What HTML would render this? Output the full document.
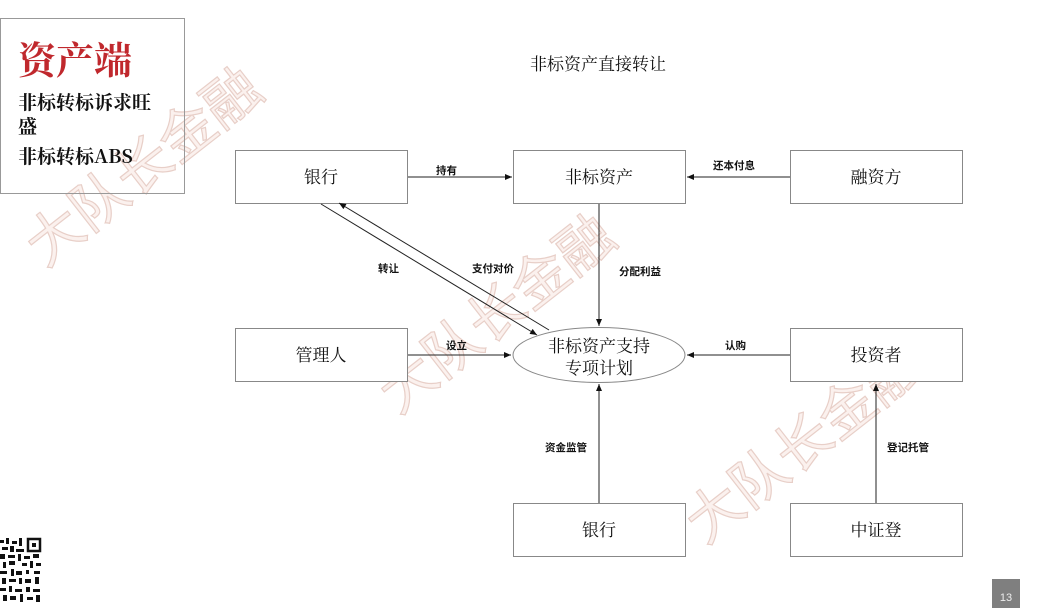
<!DOCTYPE html>
<html><head><meta charset="utf-8"><style>
html,body{margin:0;padding:0;background:#fff;}
body{width:1050px;height:608px;position:relative;overflow:hidden;font-family:"Liberation Serif","Noto Serif CJK SC",serif;}
</style></head><body>
<svg width="1050" height="608" viewBox="0 0 1050 608" style="position:absolute;left:0;top:0">
<defs>
<marker id="a" markerWidth="8" markerHeight="8" refX="7" refY="3" orient="auto" markerUnits="userSpaceOnUse"><path d="M0,0 L7,3 L0,6 z" fill="#111"/></marker>
</defs>
<g font-family="Noto Sans CJK SC, sans-serif" font-size="56" fill="#fbf1ee" stroke="#e8cfc8" stroke-width="1.2">
<text transform="translate(45,268) rotate(-38)">大队长金融</text>
<text transform="translate(398,415) rotate(-38)">大队长金融</text>
<text transform="translate(705,545) rotate(-38)">大队长金融</text>
</g>
<rect x="0.5" y="18.5" width="184" height="175" fill="none" stroke="#999"/>
<text x="18" y="74" font-size="38" fill="#c0282d" font-family="Noto Serif CJK SC, serif" font-weight="bold">资产端</text>
<text x="18" y="109" font-size="19" fill="#111" font-weight="bold" font-family="Noto Serif CJK SC, serif">非标转标诉求旺</text>
<text x="18" y="133" font-size="19" fill="#111" font-weight="bold" font-family="Noto Serif CJK SC, serif">盛</text>
<text x="18" y="163" font-size="19" fill="#111" font-weight="bold" font-family="Noto Serif CJK SC, serif">非标转标ABS</text>
<text x="598" y="70" font-size="17" text-anchor="middle" fill="#111" font-family="Noto Serif CJK SC, serif">非标资产直接转让</text>
<g fill="#fff" stroke="#888" stroke-width="1">
<rect x="235.5" y="150.5" width="172" height="53"/>
<rect x="513.5" y="150.5" width="172" height="53"/>
<rect x="790.5" y="150.5" width="172" height="53"/>
<rect x="235.5" y="328.5" width="172" height="53"/>
<rect x="790.5" y="328.5" width="172" height="53"/>
<rect x="513.5" y="503.5" width="172" height="53"/>
<rect x="790.5" y="503.5" width="172" height="53"/>
<ellipse cx="599" cy="355" rx="86" ry="27.5"/>
</g>
<g font-size="17" text-anchor="middle" fill="#111" font-family="Noto Serif CJK SC, serif">
<text x="321" y="183">银行</text>
<text x="599" y="183">非标资产</text>
<text x="876" y="183">融资方</text>
<text x="321" y="361">管理人</text>
<text x="876" y="361">投资者</text>
<text x="599" y="536">银行</text>
<text x="876" y="536">中证登</text>
<text x="599" y="352">非标资产支持</text>
<text x="599" y="374">专项计划</text>
</g>
<g stroke="#222" stroke-width="1" fill="none" marker-end="url(#a)">
<line x1="408" y1="177" x2="512" y2="177"/>
<line x1="790" y1="177" x2="687" y2="177"/>
<line x1="599" y1="204" x2="599" y2="326"/>
<line x1="408" y1="355" x2="511" y2="355"/>
<line x1="790" y1="355" x2="687" y2="355"/>
<line x1="599" y1="503" x2="599" y2="384"/>
<line x1="876" y1="503" x2="876" y2="384"/>
<line x1="321" y1="204" x2="537" y2="335"/>
<line x1="549" y1="330" x2="339" y2="203"/>
</g>
<g font-size="10.5" font-weight="bold" fill="#111" font-family="Noto Sans CJK SC, sans-serif">
<text x="436" y="174">持有</text>
<text x="713" y="169">还本付息</text>
<text x="619" y="275">分配利益</text>
<text x="378" y="272">转让</text>
<text x="472" y="272">支付对价</text>
<text x="446" y="349">设立</text>
<text x="725" y="349">认购</text>
<text x="545" y="451">资金监管</text>
<text x="887" y="451">登记托管</text>
</g>
<g fill="#111">
<rect x="0" y="537" width="41" height="66" fill="#fff"/>
<rect x="28" y="539" width="12" height="12" fill="none" stroke="#111" stroke-width="2.5"/>
<rect x="32" y="543" width="4" height="4"/>
<rect x="0" y="540" width="4" height="3"/><rect x="6" y="538" width="3" height="6"/><rect x="12" y="541" width="5" height="3"/><rect x="19" y="538" width="3" height="8"/>
<rect x="2" y="547" width="6" height="3"/><rect x="10" y="546" width="4" height="6"/><rect x="16" y="549" width="8" height="3"/>
<rect x="0" y="554" width="5" height="5"/><rect x="8" y="555" width="7" height="3"/><rect x="18" y="554" width="3" height="7"/><rect x="24" y="556" width="6" height="3"/><rect x="33" y="554" width="6" height="4"/>
<rect x="3" y="562" width="3" height="6"/><rect x="9" y="561" width="6" height="4"/><rect x="22" y="563" width="5" height="3"/><rect x="30" y="561" width="3" height="7"/><rect x="36" y="563" width="5" height="3"/>
<rect x="0" y="571" width="7" height="3"/><rect x="11" y="569" width="3" height="7"/><rect x="16" y="571" width="6" height="4"/><rect x="26" y="570" width="3" height="4"/><rect x="34" y="571" width="6" height="3"/>
<rect x="2" y="578" width="4" height="6"/><rect x="9" y="579" width="7" height="3"/><rect x="19" y="578" width="3" height="6"/><rect x="25" y="579" width="6" height="4"/><rect x="35" y="577" width="4" height="7"/>
<rect x="0" y="588" width="6" height="3"/><rect x="9" y="586" width="3" height="6"/><rect x="15" y="589" width="7" height="3"/><rect x="26" y="587" width="4" height="5"/><rect x="33" y="589" width="7" height="3"/>
<rect x="3" y="595" width="4" height="6"/><rect x="10" y="596" width="6" height="4"/><rect x="20" y="594" width="3" height="8"/><rect x="27" y="597" width="6" height="3"/><rect x="36" y="595" width="4" height="7"/>
</g>
<rect x="992" y="579" width="28" height="29" fill="#7f7f7f"/>
<text x="1006" y="601" font-size="11" fill="#eee" text-anchor="middle" font-family="Liberation Sans, sans-serif">13</text>
</svg>
</body></html>
